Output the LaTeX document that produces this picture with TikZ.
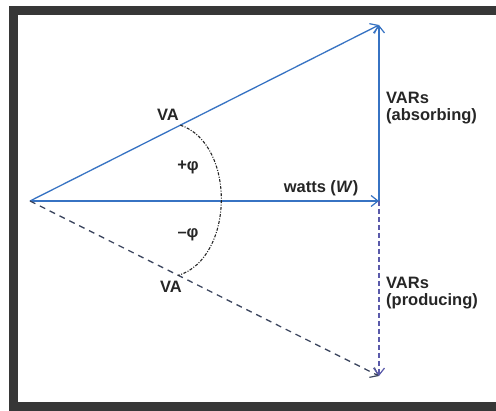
\documentclass[tikz,border=0pt]{standalone}
\usepackage{fontspec}
\setmainfont{Liberation Sans}
\usetikzlibrary{arrows.meta,calc}
\definecolor{vblue}{RGB}{55,115,195}
\definecolor{vdash}{RGB}{60,70,95}
\definecolor{vpurp}{RGB}{90,90,170}
\definecolor{framecol}{RGB}{55,55,55}
\begin{document}
\begin{tikzpicture}[x=1pt,y=-1pt,
  tipbarb/.tip={Straight Barb[length=7pt,width=11pt,line width=1.2pt]},
  vec/.style={draw=vblue, line width=1.3pt, -tipbarb},
  dvec/.style={draw=vdash, line width=1.3pt, dash pattern=on 6pt off 5pt, -{Straight Barb[length=7pt,width=11pt,line width=1.2pt]}},
  dvvec/.style={draw=vpurp, line width=1.2pt, dash pattern=on 5pt off 3pt, -{Straight Barb[length=7pt,width=11pt,line width=1.2pt]}},
  arcline/.style={draw=black!85, line width=1.1pt, dash pattern=on 3pt off 1.5pt on 1pt off 1.5pt},
  lbl/.style={font=\bfseries\fontsize{16.5}{17.5}\selectfont, inner sep=0pt, text=black!85}]
\useasboundingbox (0,0) rectangle (496,411);
\fill[white] (0,0) rectangle (496,411);
\begin{scope}
  \clip (0,0) rectangle (496,411);
  \draw[framecol, line width=9pt] (13,10.5) rectangle (510,406.5);
\end{scope}
% points
\coordinate (O) at (30,201);
\coordinate (T) at (379,25);
\coordinate (W) at (379,201);
\coordinate (B) at (379,376);
\coordinate (vat) at ($(O)!0.431!(T)$);
\coordinate (vab) at ($(O)!0.425!(B)$);
% vectors
\draw[vec] (O) -- (T);
\draw[vec] (W) -- (T);
\draw[vec] (O) -- (W);
\draw[dvec] (O) -- (B);
\draw[dvvec] (W) -- (B);
% angle arc
\draw[arcline] (vat) to[bend left=72] (vab);
% labels
\node[lbl] (lvat) at (168,115) {VA};
\node[lbl] (lvab) at (171,287) {VA};
\node[lbl] (lpp) at (188,167) {+φ};
\node[lbl] (lpm) at (188,235) {–φ};
\node[lbl] (lw) at (321,188) {watts (\textit{W})};
\node[lbl, anchor=west, align=left] (labs) at (386,108) {VARs\\(absorbing)};
\node[lbl, anchor=west, align=left] (lprod) at (386,293) {VARs\\(producing)};
\end{tikzpicture}
\end{document}
